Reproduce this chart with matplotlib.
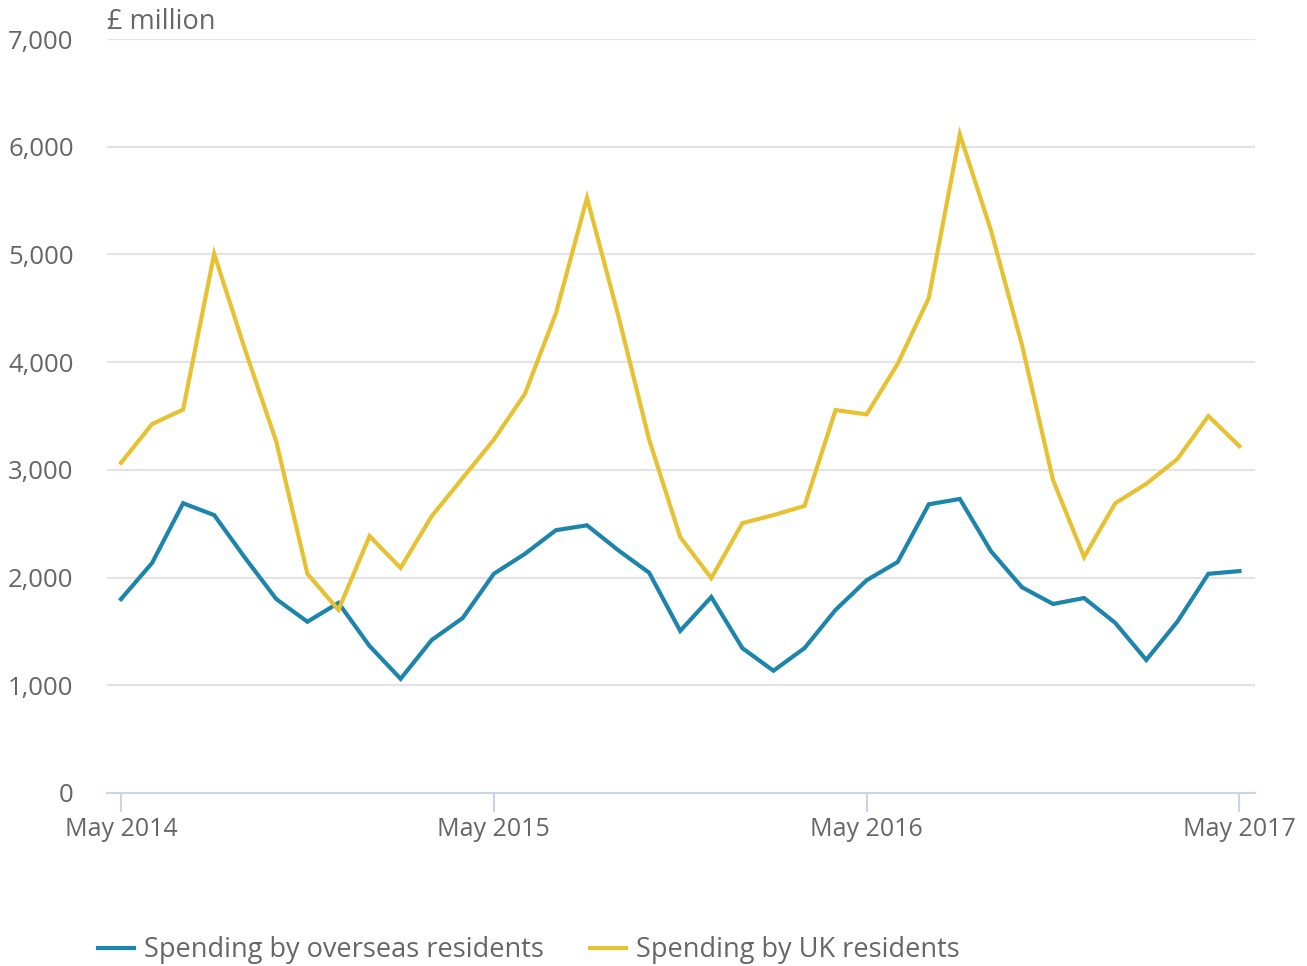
import numpy as np
import matplotlib
matplotlib.use("Agg")
import matplotlib.pyplot as plt
from matplotlib.lines import Line2D

plt.rcParams['font.family'] = ['Open Sans', 'DejaVu Sans']

# monthly, May 2014 .. May 2017
months = list(range(37))
tick_pos = [0, 12, 24, 36]
tick_labels = ["May 2014", "May 2015", "May 2016", "May 2017"]

overseas = [1800, 2135, 2690, 2580, 2180, 1800, 1590, 1765, 1365, 1060, 1420, 1625,
            2035, 2220, 2440, 2485, 2255, 2045, 1505, 1820, 1345, 1135, 1345, 1700,
            1975, 2145, 2680, 2730, 2245, 1910, 1755, 1810, 1580, 1235, 1590, 2035,
            2060]
uk = [3065, 3425, 3560, 5005, 4110, 3260, 2035, 1700, 2385, 2090, 2570, 2925,
      3280, 3705, 4455, 5525, 4440, 3280, 2375, 1995, 2505, 2580, 2665, 3555,
      3515, 3985, 4595, 6115, 5225, 4160, 2905, 2190, 2690, 2870, 3100, 3500,
      3220]

blue = "#1d85ab"
yellow = "#e6c232"
text_col = "#666666"

fig = plt.figure(figsize=(13.07, 9.66), dpi=100)
ax = fig.add_axes([107/1307, (966-793)/966, (1255-107)/1307, (793-39)/966])

ax.plot(months, overseas, color=blue, lw=3, solid_joinstyle="miter")
ax.plot(months, uk, color=yellow, lw=3, solid_joinstyle="miter")

ax.set_xlim(-0.45, 36.5)
ax.set_ylim(0, 7000)
ax.set_yticks(range(0, 7001, 1000))
ax.set_yticklabels([f"{v:,}" for v in range(0, 7001, 1000)])
ax.set_xticks(tick_pos)
ax.set_xticklabels(tick_labels)

ax.grid(axis="y", color="#e3e3e3", lw=1.5)
ax.set_axisbelow(True)
for s in ["top", "right", "left"]:
    ax.spines[s].set_visible(False)
ax.spines["bottom"].set_color("#c9d4e6")
ax.spines["bottom"].set_linewidth(1.5)

ax.tick_params(axis="y", length=0, pad=24, labelsize=18.5, labelcolor=text_col)
ax.tick_params(axis="x", length=14, width=1.5, color="#c9d4e6", pad=3,
               labelsize=18, labelcolor=text_col)

fig.text(107/1307, 1 - 22/966, "£ million", fontsize=19.5, color=text_col,
         va="center", ha="left")

handles = [Line2D([0], [0], color=blue, lw=3),
           Line2D([0], [0], color=yellow, lw=3)]
fig.legend(handles, ["Spending by overseas residents", "Spending by UK residents"],
           loc="center left", bbox_to_anchor=(74/1307, 1 - 950/966), ncol=2,
           frameon=False, fontsize=19.5, labelcolor=text_col, handlelength=1.3,
           handletextpad=0.4, columnspacing=1.7)

fig.savefig("out.png", dpi=100)
